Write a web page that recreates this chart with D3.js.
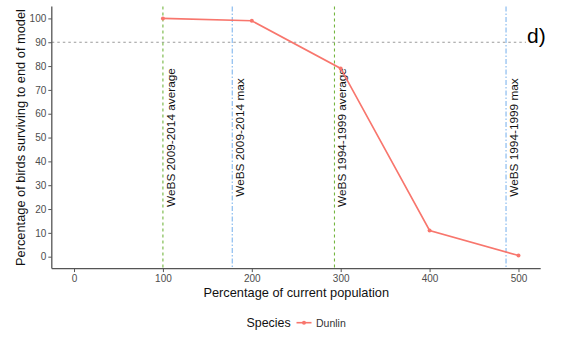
<!DOCTYPE html>
<html><head><meta charset="utf-8">
<script src="https://cdn.jsdelivr.net/npm/d3@7"></script>
<style>body{margin:0;background:#fff}svg{display:block}text{font-family:"Liberation Sans",Arial,sans-serif}</style>
</head><body>
<script>
const popPercent = [100, 200, 300, 400, 500];
const survival = [100, 99, 79, 11, 0.5];
const seriesName = "Dunlin";
const refValues = [100, 178, 293, 486];
const refLabels = ["WeBS 2009-2014 average", "WeBS 2009-2014 max", "WeBS 1994-1999 average", "WeBS 1994-1999 max"];
const refKinds = ["avg", "max", "avg", "max"];
const xTicks = [0, 100, 200, 300, 400, 500];
const yTicks = [0, 10, 20, 30, 40, 50, 60, 70, 80, 90, 100];
const threshold = 90;

const W = 563, H = 347;
const svg = d3.select("body").append("svg").attr("width", W).attr("height", H);
const x = d3.scaleLinear().domain([-25, 525]).range([51.8, 540.7]);
const y = d3.scaleLinear().domain([-5, 105]).range([268.6, 6.5]);
const red = "#F8766D", green = "#74b640", blue = "#80b6ee";

// reference lines
svg.append("line").attr("x1", x(-25)).attr("x2", x(525)).attr("y1", y(threshold)).attr("y2", y(threshold))
  .attr("stroke", "#9a9a9a").attr("stroke-width", 1.1).attr("stroke-dasharray", "2.5,3");
refValues.forEach((v, i) => {
  svg.append("line").attr("x1", x(v)).attr("x2", x(v)).attr("y1", y(105)).attr("y2", y(-5))
    .attr("stroke", refKinds[i] === "avg" ? green : blue).attr("stroke-width", 1.1)
    .attr("stroke-dasharray", refKinds[i] === "avg" ? "3,3" : "5,2,1.5,2");
  svg.append("text").attr("transform", `translate(${x(v) + 12},${y(50)}) rotate(-90)`)
    .attr("text-anchor", "middle").attr("font-size", 11.8).attr("fill", "#111").text(refLabels[i]);
});

// series
const pts = popPercent.map((p, i) => [p, survival[i]]);
svg.append("path").datum(pts).attr("fill", "none").attr("stroke", red).attr("stroke-width", 1.6)
  .attr("d", d3.line().x(d => x(d[0])).y(d => y(d[1])));
svg.selectAll("circle.pt").data(pts).join("circle").attr("class", "pt")
  .attr("cx", d => x(d[0])).attr("cy", d => y(d[1])).attr("r", 2).attr("fill", red);

// axes
const ax = svg.append("g").attr("transform", `translate(0,${y(-5)})`)
  .call(d3.axisBottom(x).tickValues(xTicks).tickSize(3.5).tickPadding(3));
const ay = svg.append("g").attr("transform", `translate(${x(-25)},0)`)
  .call(d3.axisLeft(y).tickValues(yTicks).tickSize(3.5).tickPadding(2));
[ax, ay].forEach(g => {
  g.select(".domain").attr("stroke", "#555").attr("stroke-width", 1.3);
  g.selectAll(".tick line").attr("stroke", "#555").attr("stroke-width", 1);
  g.selectAll(".tick text").attr("font-size", 10).attr("fill", "#4d4d4d").attr("font-family", "Liberation Sans, Arial, sans-serif");
});
ax.select(".domain").attr("d", `M${x(-25)},0H${x(525)}`);
ay.select(".domain").attr("d", `M0,${y(-5)}V${y(105)}`);

// titles
svg.append("text").attr("x", (x(-25) + x(525)) / 2).attr("y", 296.5).attr("text-anchor", "middle")
  .attr("font-size", 12.8).attr("fill", "#111").text("Percentage of current population");
svg.append("text").attr("transform", `translate(25,${(y(-5) + y(105)) / 2}) rotate(-90)`)
  .attr("text-anchor", "middle").attr("font-size", 12.8).attr("fill", "#111")
  .text("Percentage of birds surviving to end of model");

// legend
svg.append("text").attr("x", 246.5).attr("y", 327).attr("font-size", 12.4).attr("fill", "#111").text("Species");
svg.append("line").attr("x1", 296.5).attr("x2", 311.5).attr("y1", 322.7).attr("y2", 322.7).attr("stroke", red).attr("stroke-width", 1.6);
svg.append("circle").attr("cx", 304).attr("cy", 322.7).attr("r", 2).attr("fill", red);
svg.append("text").attr("x", 316).attr("y", 326.5).attr("font-size", 10.5).attr("fill", "#333").text(seriesName);

// panel tag
svg.append("rect").attr("x", 526).attr("y", 20).attr("width", 30).attr("height", 30).attr("fill", "#fff");
svg.append("text").attr("x", 527).attr("y", 43).attr("font-size", 21).attr("fill", "#000").text("d)");
</script>
</body></html>
